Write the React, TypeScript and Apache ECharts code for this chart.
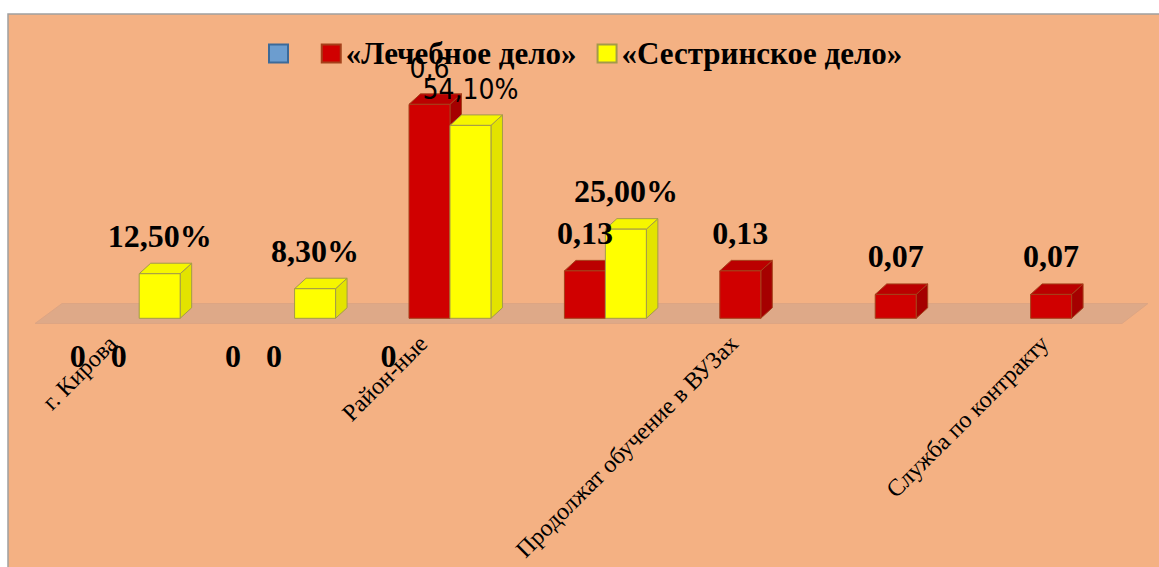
import React, { useEffect, useRef } from "react";
import * as echarts from "echarts";

const categories = ["г. Кирова", "", "Район-ные", "", "Продолжат обучение в ВУЗах", "", "Служба по контракту"];
const blueName = "\u00a0";
const redName = "«Лечебное дело»";
const yellowName = "«Сестринское дело»";
const blueValues: (number | null)[] = [0, 0, 0, null, null, null, null];
const redValues: (number | null)[] = [0, 0, 0.6, 0.133, 0.133, 0.067, 0.067];
const yellowValues: (number | null)[] = [0.125, 0.083, 0.541, 0.25, null, null, null];
const blueLabels = ["0", "0", "0", "", "", "", ""];
const redLabels = ["0", "0", "0,6", "0,13", "0,13", "0,07", "0,07"];
const yellowLabels = ["12,50%", "8,30%", "54,10%", "25,00%", "", "", ""];
const plainLabelCategory = 2;

const SERIF = "'Liberation Serif', serif";
const SANS = "'DejaVu Sans Condensed', 'DejaVu Sans', sans-serif";

type Palette = { front: string; side: string; top: string; border: string };
const bluePal: Palette = { front: "#6C9DCF", side: "#5580AA", top: "#6090BE", border: "#3C6A99" };
const redPal: Palette = { front: "#D00000", side: "#A50000", top: "#BB0000", border: "#A5401A" };
const yellowPal: Palette = { front: "#FFFF00", side: "#E3E300", top: "#F6F600", border: "#A39A4A" };

function barSeries(name: string, values: (number | null)[], labels: string[], pal: Palette, slot: number) {
  return {
    type: "custom",
    name,
    xAxisIndex: 0,
    yAxisIndex: 0,
    clip: false,
    itemStyle: { color: pal.front, borderColor: pal.border, borderWidth: 1 },
    encode: { x: 0, y: 1 },
    data: values.map((v, i) => [i, v]).filter((d) => d[1] !== null),
    renderItem: (_p: any, api: any) => {
      const idx = api.value(0);
      const val = api.value(1);
      const band = api.size([1, 0])[0];
      const w = band * 0.2637;
      const base = api.coord([idx, 0]);
      const top = api.coord([idx, val]);
      const x0 = base[0] + (slot - 1.5) * w;
      const x1 = x0 + w;
      const yB = base[1];
      const yT = top[1];
      const dx = 11.5;
      const dy = 10.5;
      const children: any[] = [];
      if (val > 0) {
        const line = { stroke: pal.border, lineWidth: 1 };
        children.push(
          {
            type: "polygon",
            shape: { points: [[x1, yT], [x1 + dx, yT - dy], [x1 + dx, yB - dy], [x1, yB]] },
            style: { fill: pal.side, ...line },
          },
          {
            type: "polygon",
            shape: { points: [[x0, yT], [x0 + dx, yT - dy], [x1 + dx, yT - dy], [x1, yT]] },
            style: { fill: pal.top, ...line },
          },
          { type: "rect", shape: { x: x0, y: yT, width: w, height: yB - yT }, style: { fill: pal.front, ...line } }
        );
      }
      const plain = idx === plainLabelCategory && val > 0;
      children.push({
        type: "text",
        z2: 100,
        x: (x0 + x1) / 2,
        y: val > 0 ? yT - (plain ? 36 : 38) : yB + 38,
        style: {
          text: labels[idx],
          fill: "#000",
          align: "center",
          verticalAlign: "middle",
          fontFamily: plain ? SANS : SERIF,
          fontWeight: plain ? "normal" : "bold",
          fontSize: plain ? 28 : 32,
        },
      });
      return { type: "group", children };
    },
  };
}

export default function App() {
  const ref = useRef<HTMLDivElement>(null);
  useEffect(() => {
    const chart = echarts.init(ref.current!, null, { renderer: "svg" });
    chart.setOption({
      animation: false,
      backgroundColor: "#FFFFFF",
      legend: {
        left: 268,
        top: 38,
        padding: 0,
        itemWidth: 19,
        itemHeight: 18,
        itemGap: 20,
        icon: "rect",
        data: [blueName, redName, yellowName],
        textStyle: { fontFamily: SERIF, fontWeight: "bold", fontSize: 31, color: "#000" },
      },
      graphic: [
        {
          type: "rect",
          z: -10,
          shape: { x: 8, y: 14, width: 1160, height: 560 },
          style: { fill: "#F4B183", stroke: "#A0A0A0", lineWidth: 1.5 },
        },
        {
          type: "polygon",
          z: -5,
          shape: { points: [[35, 323.5], [1122, 323.5], [1148, 303.5], [62, 303.5]] },
          style: { fill: "#DEA988", stroke: "#DDA583", lineWidth: 1 },
        },
      ],
      grid: [
        { left: 41, width: 1087.8, top: 68.7, bottom: 248.7 },
        { left: 35, width: 1087, top: 68.7, bottom: 243.5 },
      ],
      xAxis: [
        {
          type: "category",
          gridIndex: 0,
          data: categories,
          axisLine: { show: false },
          axisTick: { show: false },
          axisLabel: { show: false },
        },
        {
          type: "category",
          gridIndex: 1,
          data: categories,
          axisLine: { show: false },
          axisTick: { show: false },
          axisLabel: {
            interval: 0,
            rotate: 45,
            margin: 16,
            fontFamily: SERIF,
            fontSize: 24,
            color: "#000",
          },
        },
      ],
      yAxis: [
        { type: "value", gridIndex: 0, min: 0, max: 0.7, show: false },
        { type: "value", gridIndex: 1, min: 0, max: 0.7, show: false },
      ],
      series: [
        barSeries(blueName, blueValues, blueLabels, bluePal, 0),
        barSeries(redName, redValues, redLabels, redPal, 1),
        barSeries(yellowName, yellowValues, yellowLabels, yellowPal, 2),
      ],
    });
    return () => chart.dispose();
  }, []);
  return (
    <div style={{ position: "absolute", left: 0, top: 0, width: 1159, height: 567, overflow: "hidden" }}>
      <div ref={ref} style={{ width: 1159, height: 567 }} />
    </div>
  );
}
